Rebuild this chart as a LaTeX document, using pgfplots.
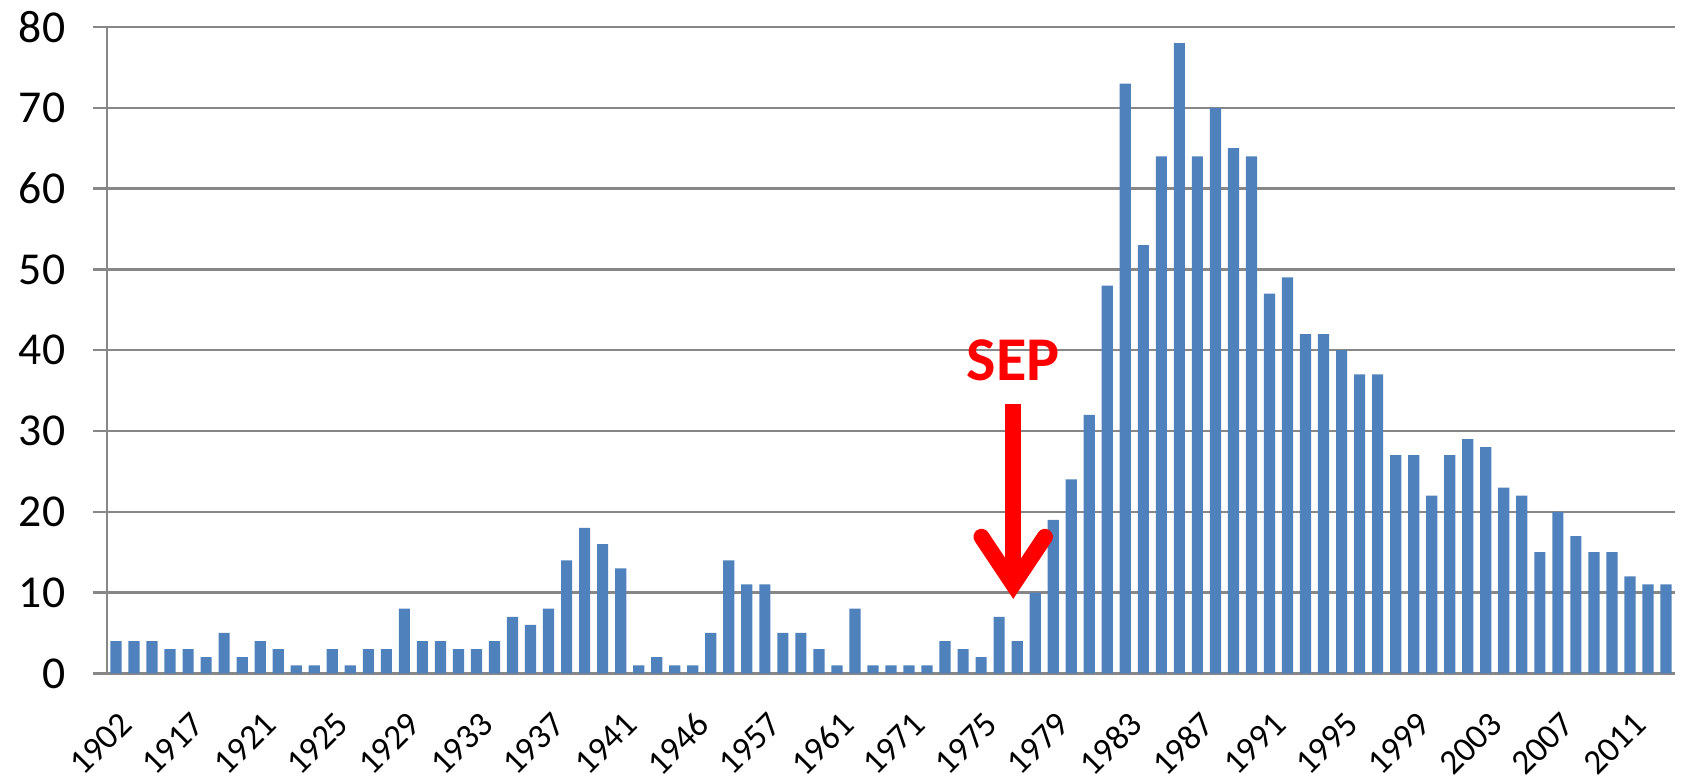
\documentclass[border=0pt]{standalone}
\usepackage{fontspec}
\setmainfont{Carlito}
\usepackage{pgfplots}
\usepackage{pgfplotstable}
\pgfplotsset{compat=1.18}

\definecolor{barblue}{HTML}{4F81BD}
\definecolor{axgray}{HTML}{878787}

% counts per category, plotted at 0,1,2,...
\pgfplotstableread{
x y
0 4
1 4
2 4
3 3
4 3
5 2
6 5
7 2
8 4
9 3
10 1
11 1
12 3
13 1
14 3
15 3
16 8
17 4
18 4
19 3
20 3
21 4
22 7
23 6
24 8
25 14
26 18
27 16
28 13
29 1
30 2
31 1
32 1
33 5
34 14
35 11
36 11
37 5
38 5
39 3
40 1
41 8
42 1
43 1
44 1
45 1
46 4
47 3
48 2
49 7
50 4
51 10
52 19
53 24
54 32
55 48
56 73
57 53
58 64
59 78
60 64
61 70
62 65
63 64
64 47
65 49
66 42
67 42
68 40
69 37
70 37
71 27
72 27
73 22
74 27
75 29
76 28
77 23
78 22
79 15
80 20
81 17
82 15
83 15
84 12
85 11
86 11
}\counts

\begin{document}
\begin{tikzpicture}
\begin{axis}[
  scale only axis,
  width=156.8mm, height=64.64mm,
  ybar, bar width=0.62,
  xmin=-0.5, xmax=86.5,
  ymin=0, ymax=80,
  axis lines*=left,
  axis line style={draw=axgray, line width=0.7pt},
  xtick={0,4,...,84},
  xticklabels={1902,1917,1921,1925,1929,1933,1937,1941,1946,1957,1961,1971,1975,1979,1983,1987,1991,1995,1999,2003,2007,2011},
  minor xtick={-0.5,0.5,...,86.5},
  xtick style={draw=none},
  minor tick style={draw=axgray, line width=0.7pt},
  ytick={0,10,...,80},
  ytick style={draw=axgray, line width=0.7pt},
  tick align=outside,
  major tick length=1.4mm,
  minor tick length=1.1mm,
  ymajorgrids,
  major grid style={draw=axgray, line width=0.7pt},
  /pgf/number format/assume math mode=true,
  yticklabel style={font=\fontsize{13}{15}\selectfont, anchor=east, inner sep=0pt, xshift=-2.7mm},
  xticklabel style={font=\fontsize{10}{12}\selectfont, xshift=0.2mm, yshift=-2.2mm, rotate=45, anchor=north east, inner sep=0pt},
]
\addplot[fill=barblue, draw=none] table[x=x, y=y] {\counts};
\coordinate (bl) at (rel axis cs:0,0);
\coordinate (tr) at (rel axis cs:1,1);
\node[text=red, font=\fontsize{17.7}{20}\selectfont\bfseries] at (axis cs:49.78,38.8) {SEP};
\draw[red, line width=1.6mm] (axis cs:49.78,33.3) -- (axis cs:49.78,12.5);
\draw[red, line width=1.6mm, line cap=round, line join=miter]
  (axis cs:48.02,16.9) -- (axis cs:49.78,11.0) -- (axis cs:51.54,16.9);
\end{axis}
\pgfresetboundingbox
\path ([shift={(-10.7mm,-10.5mm)}]bl) rectangle ([shift={(0.6mm,2.7mm)}]tr);
\end{tikzpicture}
\end{document}
